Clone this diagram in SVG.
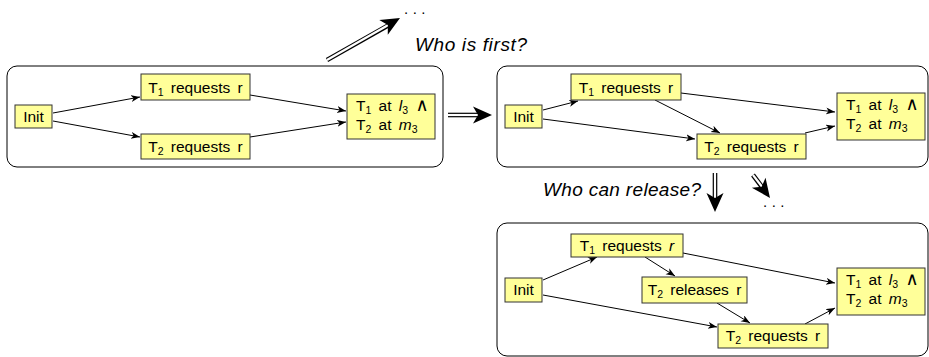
<svg xmlns="http://www.w3.org/2000/svg" width="929" height="357" viewBox="0 0 929 357">
  <defs>
    <style>
      .frame { fill: #ffffff; stroke: #000000; stroke-width: 1; }
      .node { fill: #ffff99; stroke: #333333; stroke-width: 1; }
      .lbl { font-family: "Liberation Sans", Arial, sans-serif; font-size: 15.5px; fill: #000000; word-spacing: 3px; }
      .mid { text-anchor: middle; }
      .sub { font-size: 10.5px; }
      .it { font-style: italic; }
      .wedge { font-family: "DejaVu Sans", sans-serif; font-size: 18px; }
      .note { font-family: "Liberation Sans", Arial, sans-serif; font-size: 19px; font-style: italic; fill: #000000; }
      .dots { font-family: "Liberation Sans", Arial, sans-serif; font-size: 15px; fill: #000000; letter-spacing: 4.5px; }
      .edge { fill: none; stroke: #000000; stroke-width: 1; marker-end: url(#tip); }
      .dbl-out { fill: none; stroke: #000000; stroke-width: 4.6; }
      .dbl-in { fill: none; stroke: #ffffff; stroke-width: 2.2; }
    </style>
    <marker id="tip" markerUnits="userSpaceOnUse" markerWidth="10" markerHeight="8" refX="9" refY="3.5" orient="auto">
      <path d="M0,0 L9,3.5 L0,7 L2.5,3.5 Z" fill="#000000"/>
    </marker>
    <!-- filled head for the double-line transition arrows; tip at the origin, pointing +x -->
    <path id="bighead" d="M0,0 L-19,-8.5 L-14,0 L-19,8.5 Z" fill="#000000"/>
  </defs>

  <!-- state frames -->
  <g id="frame-a"><rect class="frame" x="7" y="66" width="436" height="101" rx="10"/></g>
  <g id="frame-b"><rect class="frame" x="497" y="66" width="431" height="101" rx="10"/></g>
  <g id="frame-c"><rect class="frame" x="497" y="223" width="431" height="133" rx="10"/></g>

  <!-- transitions between frames (double-line arrows) -->
  <g id="transitions">
    <!-- a -> ... -->
    <line class="dbl-out" x1="327" y1="60" x2="389" y2="25"/>
    <line class="dbl-in" x1="327" y1="60" x2="390" y2="24"/>
    <use href="#bighead" transform="translate(400,18) rotate(-29.9)"/>
    <!-- a -> b -->
    <line class="dbl-out" x1="448" y1="115" x2="479" y2="115"/>
    <line class="dbl-in" x1="448" y1="115" x2="480" y2="115"/>
    <use href="#bighead" transform="translate(492,115)"/>
    <!-- b -> c -->
    <line class="dbl-out" x1="715" y1="173" x2="715" y2="199"/>
    <line class="dbl-in" x1="715" y1="173" x2="715" y2="200"/>
    <use href="#bighead" transform="translate(715,212) rotate(90)"/>
    <!-- b -> ... -->
    <line class="dbl-out" x1="753" y1="175" x2="762" y2="187"/>
    <line class="dbl-in" x1="753" y1="175" x2="763" y2="188"/>
    <use href="#bighead" transform="translate(770,198) rotate(53.5)"/>
  </g>

  <g id="notes">
    <text class="dots" x="404" y="14">...</text>
    <text class="note" x="415" y="51" textLength="112">Who is first?</text>
    <text class="note" x="543" y="196" textLength="158">Who can release?</text>
    <text class="dots" x="763" y="207">...</text>
  </g>

  <!-- connectors inside the frames -->
  <g id="connectors">
    <!-- frame a -->
    <line class="edge" x1="53" y1="113" x2="140" y2="97"/>
    <line class="edge" x1="53" y1="121" x2="140" y2="137"/>
    <line class="edge" x1="250" y1="95" x2="346" y2="111"/>
    <line class="edge" x1="250" y1="137" x2="346" y2="122"/>
    <!-- frame b -->
    <line class="edge" x1="543" y1="110" x2="578" y2="101"/>
    <line class="edge" x1="543" y1="119" x2="695" y2="139"/>
    <line class="edge" x1="655" y1="100" x2="720" y2="133"/>
    <line class="edge" x1="681" y1="93" x2="835" y2="112"/>
    <line class="edge" x1="805" y1="133" x2="835" y2="126"/>
    <!-- frame c -->
    <line class="edge" x1="543" y1="280" x2="597" y2="257"/>
    <line class="edge" x1="543" y1="295" x2="717" y2="327"/>
    <line class="edge" x1="645" y1="257" x2="675" y2="276"/>
    <line class="edge" x1="683" y1="253" x2="835" y2="283"/>
    <line class="edge" x1="717" y1="303" x2="750" y2="323"/>
    <line class="edge" x1="805" y1="324" x2="835" y2="308"/>
  </g>

  <!-- frame a nodes -->
  <g id="a-init">
    <rect class="node" x="15" y="105" width="37" height="23"/>
    <text class="lbl mid" x="33.5" y="122">Init</text>
  </g>
  <g id="a-t1req">
    <rect class="node" x="141" y="74" width="109" height="26"/>
    <text class="lbl mid" x="195.5" y="93">T<tspan class="sub" dy="3">1</tspan><tspan dy="-3"> requests r</tspan></text>
  </g>
  <g id="a-t2req">
    <rect class="node" x="141" y="134" width="109" height="25"/>
    <text class="lbl mid" x="195.5" y="152">T<tspan class="sub" dy="3">2</tspan><tspan dy="-3"> requests r</tspan></text>
  </g>
  <g id="a-final">
    <rect class="node" x="347" y="94" width="88" height="45"/>
    <text class="lbl" x="356" y="111">T<tspan class="sub" dy="3">1</tspan><tspan dy="-3"> at </tspan><tspan class="it">l</tspan><tspan class="sub" dy="3">3</tspan><tspan dy="-3"> </tspan><tspan class="wedge">∧</tspan></text>
    <text class="lbl" x="356" y="130">T<tspan class="sub" dy="3">2</tspan><tspan dy="-3"> at </tspan><tspan class="it">m</tspan><tspan class="sub" dy="3">3</tspan></text>
  </g>

  <!-- frame b nodes -->
  <g id="b-init">
    <rect class="node" x="505" y="105" width="37" height="23"/>
    <text class="lbl mid" x="523.5" y="122">Init</text>
  </g>
  <g id="b-t1req">
    <rect class="node" x="571" y="74" width="110" height="26"/>
    <text class="lbl mid" x="626" y="93">T<tspan class="sub" dy="3">1</tspan><tspan dy="-3"> requests r</tspan></text>
  </g>
  <g id="b-t2req">
    <rect class="node" x="697" y="134" width="109" height="25"/>
    <text class="lbl mid" x="751.5" y="152">T<tspan class="sub" dy="3">2</tspan><tspan dy="-3"> requests r</tspan></text>
  </g>
  <g id="b-final">
    <rect class="node" x="837" y="93" width="88" height="47"/>
    <text class="lbl" x="846" y="110">T<tspan class="sub" dy="3">1</tspan><tspan dy="-3"> at </tspan><tspan class="it">l</tspan><tspan class="sub" dy="3">3</tspan><tspan dy="-3"> </tspan><tspan class="wedge">∧</tspan></text>
    <text class="lbl" x="846" y="129">T<tspan class="sub" dy="3">2</tspan><tspan dy="-3"> at </tspan><tspan class="it">m</tspan><tspan class="sub" dy="3">3</tspan></text>
  </g>

  <!-- frame c nodes -->
  <g id="c-init">
    <rect class="node" x="505" y="278" width="37" height="24"/>
    <text class="lbl mid" x="523.5" y="295">Init</text>
  </g>
  <g id="c-t1req">
    <rect class="node" x="571" y="234" width="112" height="23"/>
    <text class="lbl mid" x="627" y="251">T<tspan class="sub" dy="3">1</tspan><tspan dy="-3"> requests </tspan><tspan class="it">r</tspan></text>
  </g>
  <g id="c-t2rel">
    <rect class="node" x="642" y="277" width="105" height="26"/>
    <text class="lbl mid" x="694.5" y="295">T<tspan class="sub" dy="3">2</tspan><tspan dy="-3"> releases r</tspan></text>
  </g>
  <g id="c-t2req">
    <rect class="node" x="718" y="324" width="110" height="24"/>
    <text class="lbl mid" x="773" y="341">T<tspan class="sub" dy="3">2</tspan><tspan dy="-3"> requests r</tspan></text>
  </g>
  <g id="c-final">
    <rect class="node" x="837" y="268" width="88" height="47"/>
    <text class="lbl" x="846" y="285">T<tspan class="sub" dy="3">1</tspan><tspan dy="-3"> at </tspan><tspan class="it">l</tspan><tspan class="sub" dy="3">3</tspan><tspan dy="-3"> </tspan><tspan class="wedge">∧</tspan></text>
    <text class="lbl" x="846" y="304">T<tspan class="sub" dy="3">2</tspan><tspan dy="-3"> at </tspan><tspan class="it">m</tspan><tspan class="sub" dy="3">3</tspan></text>
  </g>
</svg>
